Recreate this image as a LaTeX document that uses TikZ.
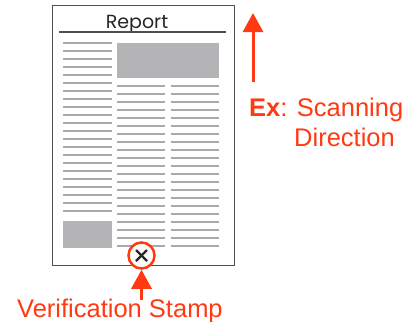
\documentclass[tikz,border=0pt]{standalone}
\usepackage{fontspec}
\setmainfont{Poppins}
\newfontfamily\lblfont{Liberation Sans}
\usetikzlibrary{arrows.meta,calc}
\definecolor{orng}{HTML}{FF3A12}
\definecolor{boxgray}{HTML}{B4B4B6}
\definecolor{linegray}{HTML}{A9A9AB}
\definecolor{frame}{HTML}{505050}
\tikzset{
  txtline/.style={draw=linegray, line width=1.8},
  graybox/.style={fill=boxgray, draw=none},
  orarrow/.style={draw=orng, line width=3, -{Triangle[length=19, width=20]}},
  lbl/.style={text=orng, inner sep=0, anchor=base west, font=\lblfont\fontsize{25.5}{27}\selectfont},
}
\begin{document}
\begin{tikzpicture}[x=1pt,y=-1pt]
\useasboundingbox (0,0) rectangle (416,322);
% page
\node[draw=frame, line width=1.3, minimum width=182, minimum height=260, inner sep=0, anchor=north west] (page) at (51.5,5) {};
\node[inner sep=0, anchor=base, font=\fontsize{19}{21}\selectfont, text=black!85] (title) at (137,28) {Report};
\coordinate (ulL) at (59,32);
\coordinate (ulR) at (226,32);
\draw[draw=frame, line width=1.5] (ulL) -- (ulR);
% left column
\foreach \i in {0,...,21} {
  \draw[txtline] (63,43+8*\i) -- (112,43+8*\i);
}
\fill[graybox] (63,221) rectangle (112,248);
% top picture
\fill[graybox] (117,43) rectangle (219,78);
% two columns
\foreach \i in {0,...,20} {
  \draw[txtline] (117,86+8*\i) -- (165,86+8*\i);
  \draw[txtline] (171,86+8*\i) -- (219,86+8*\i);
}
% stamp
\node[circle, draw=orng, fill=white, line width=2.5, minimum size=26, inner sep=0] (stamp) at (141.5,255.5) {};
\draw[line width=2.2, black!85] ($(stamp.center)+(-5.5,-5.5)$) -- ($(stamp.center)+(5.5,5.5)$);
\draw[line width=2.2, black!85] ($(stamp.center)+(-5.5,5.5)$) -- ($(stamp.center)+(5.5,-5.5)$);
\coordinate (stampTail) at (141.5,300);
\draw[orarrow] (stampTail) -- (stamp.south);
\node[lbl] (vs) at (17,317) {Verification Stamp};
% scanning direction
\coordinate (scanTail) at (253,82);
\coordinate (scanHead) at (253,13);
\draw[orarrow] (scanTail) -- (scanHead);
\node[lbl] (ex) at (249,116) {\textbf{Ex}: Scanning};
\node[lbl] (dir) at (294,146) {Direction};
\end{tikzpicture}
\end{document}
